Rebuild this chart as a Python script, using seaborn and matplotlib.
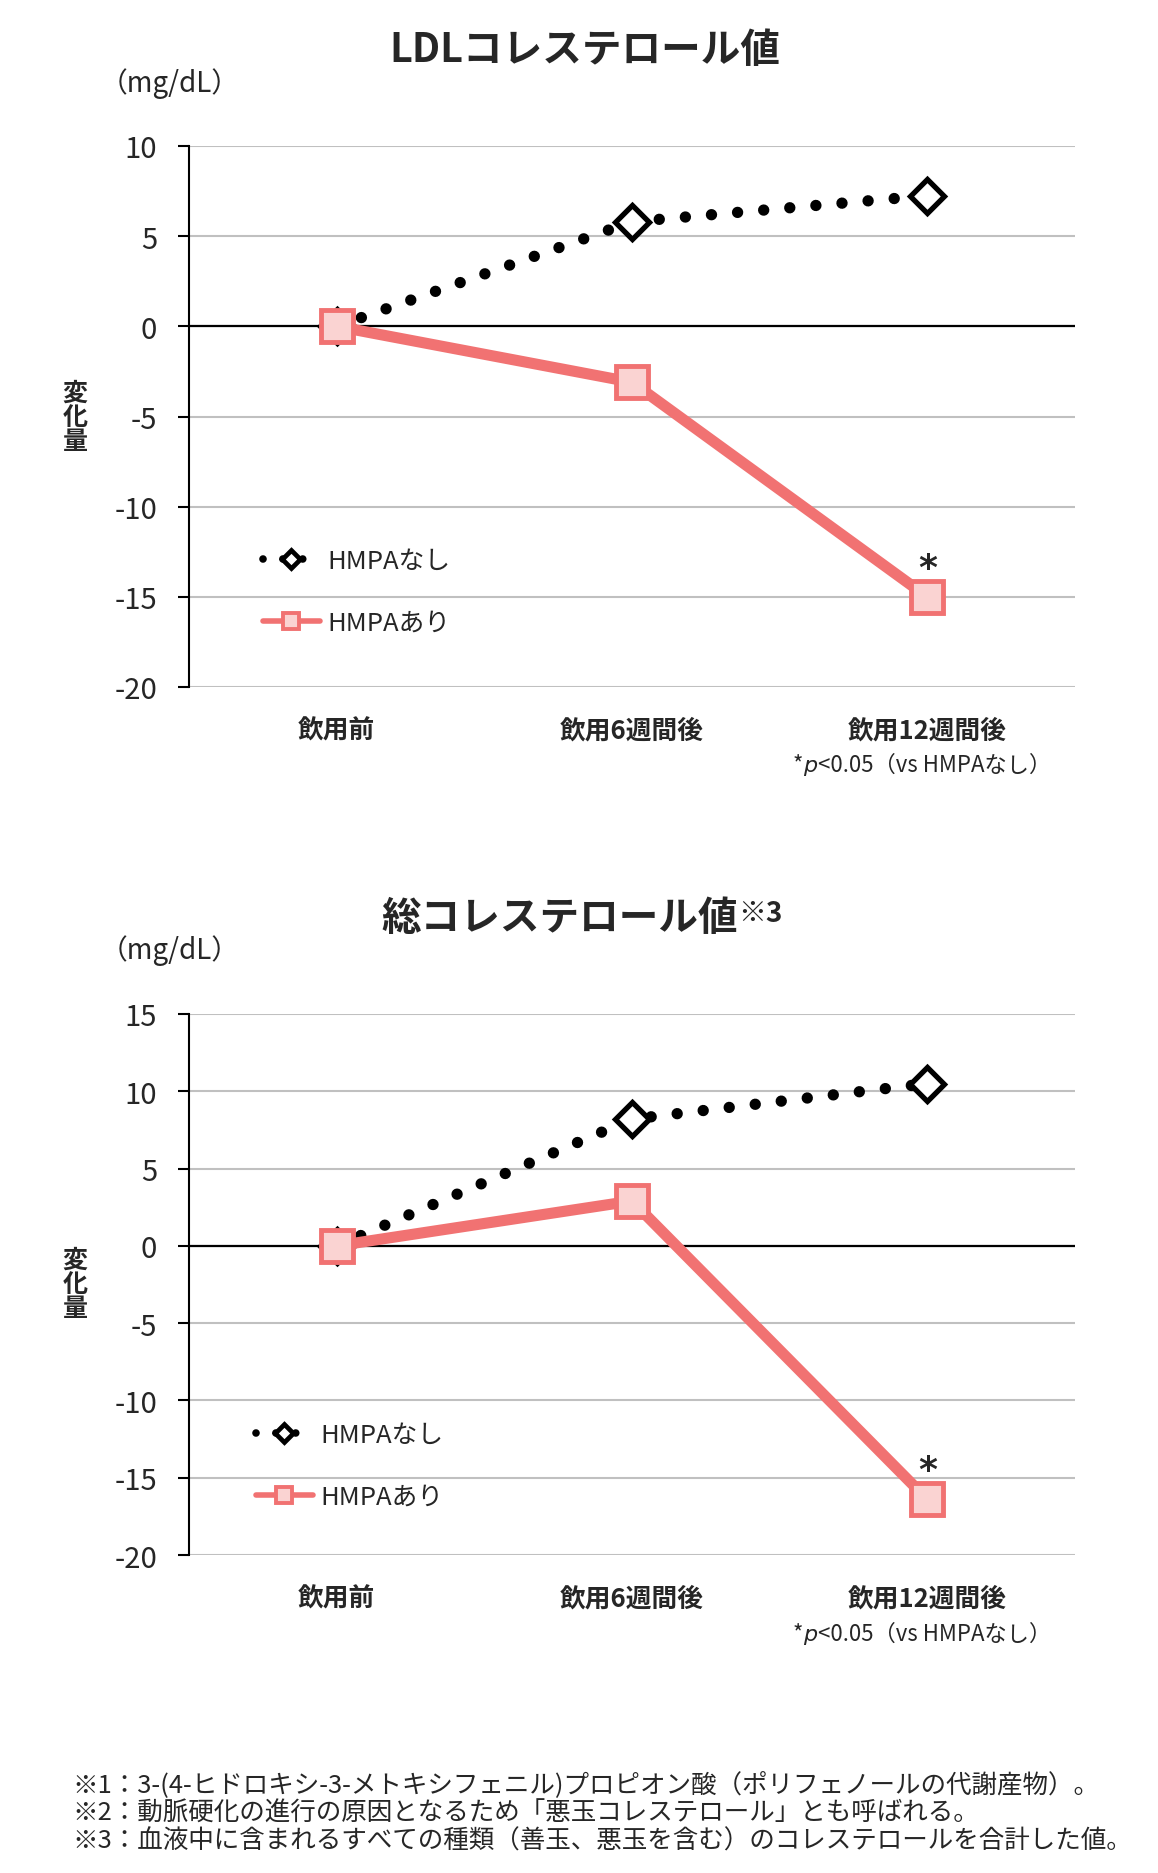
import matplotlib
matplotlib.use("Agg")
import matplotlib.pyplot as plt
from matplotlib.lines import Line2D
import pandas as pd
import seaborn as sns

W, H = 1158, 1874

timepoints = ["飲用前", "飲用6週間後", "飲用12週間後"]
series_names = ["HMPAなし", "HMPAあり"]

# change from baseline (mg/dL)
ldl_without = [0.0, 5.8, 7.25]
ldl_with = [0.0, -3.1, -15.0]
total_without = [0.0, 8.2, 10.5]
total_with = [0.0, 2.9, -16.4]

ldl_ticks = [-20, -15, -10, -5, 0, 5, 10]
total_ticks = [-20, -15, -10, -5, 0, 5, 10, 15]

footnotes = [
    "※1：3-(4-ヒドロキシ-3-メトキシフェニル)プロピオン酸（ポリフェノールの代謝産物）。",
    "※2：動脈硬化の進行の原因となるため「悪玉コレステロール」とも呼ばれる。",
    "※3：血液中に含まれるすべての種類（善玉、悪玉を含む）のコレステロールを合計した値。",
]

SALMON = "#F17272"
PINK = "#FAD3D2"
GRID = "#C0C0C0"

sns.set_style("white")
plt.rcParams["font.family"] = ["Noto Sans CJK JP", "DejaVu Sans"]


def fx(px):
    return px / W


def fy(px):
    return 1 - px / H


def draw_panel(ax, without, with_, yticks):
    df = pd.DataFrame({"time": timepoints, "without": without, "with": with_})

    sns.lineplot(data=df, x="time", y="without", sort=False, errorbar=None, ax=ax,
                 color="black", linewidth=8.2, linestyle=(0, (0.001, 2.3)),
                 dash_capstyle="round", marker="D", markersize=17,
                 markerfacecolor="white", markeredgecolor="black",
                 markeredgewidth=3.8, zorder=3)
    sns.lineplot(data=df, x="time", y="with", sort=False, errorbar=None, ax=ax,
                 color=SALMON, linewidth=8, marker="s", markersize=23,
                 markerfacecolor=PINK, markeredgecolor=SALMON,
                 markeredgewidth=3.5, zorder=4)

    ax.set_xlim(-0.5, 2.5)
    ax.set_ylim(yticks[0], yticks[-1])
    ax.set_yticks(yticks)
    ax.set_yticklabels([str(t) for t in yticks])
    ax.set_xlabel("")
    ax.set_ylabel("")

    ax.yaxis.grid(True, color=GRID, linewidth=1.5)
    ax.xaxis.grid(False)
    ax.set_axisbelow(True)
    ax.axhline(0, color="black", linewidth=1.6, zorder=2)

    for side in ["top", "right", "bottom"]:
        ax.spines[side].set_visible(False)
    ax.spines["left"].set_color("black")
    ax.spines["left"].set_linewidth(1.5)

    ax.tick_params(axis="y", direction="out", length=8, width=1.5,
                   color="black", pad=15, labelsize=21, left=True)
    ax.tick_params(axis="x", length=0, pad=21, labelsize=18.5)
    for lbl in ax.get_xticklabels():
        lbl.set_fontweight("bold")

    # significance mark above the last HMPAあり point
    ax.annotate("*", xy=(2, with_[-1]), xytext=(0, 21), textcoords="offset points",
                ha="center", va="center", fontsize=26, fontweight="bold",
                family=["DejaVu Sans"])

    handles = [
        Line2D([], [], color="black", linewidth=5.5, linestyle=(0, (0.001, 2.6)),
               dash_capstyle="round", marker="D", markersize=9,
               markerfacecolor="white", markeredgecolor="black", markeredgewidth=3.4),
        Line2D([], [], color=SALMON, linewidth=4, marker="s", markersize=11,
               markerfacecolor=PINK, markeredgecolor=SALMON, markeredgewidth=2.8),
    ]
    return handles


def p_note(ax, x_px, y_px):
    t1 = ax.figure.text(fx(x_px), fy(y_px), "*", ha="left", va="center", fontsize=16)
    t2 = ax.annotate("p", xy=(1, 0), xycoords=t1, ha="left", va="bottom",
                     fontsize=16, style="italic", family=["DejaVu Sans"])
    ax.annotate("<0.05（vs HMPAなし）", xy=(1, 0), xycoords=t2,
                ha="left", va="bottom", fontsize=16)


fig = plt.figure(figsize=(W / 100, H / 100), dpi=100)

panels = [
    dict(top=147, bottom=688, without=ldl_without, with_=ldl_with, ticks=ldl_ticks,
         title="LDLコレステロール値", sup=None, title_y=50, unit_y=84,
         ylab_y=418, legend=(0.0835, 0.1765), note_y=765),
    dict(top=1015, bottom=1556, without=total_without, with_=total_with, ticks=total_ticks,
         title="総コレステロール値", sup="※3", title_y=918, unit_y=951,
         ylab_y=1285, legend=(0.0756, 0.1645), note_y=1634),
]

for p in panels:
    ax = fig.add_axes([fx(189), fy(p["bottom"]), (1075 - 189) / W,
                       (p["bottom"] - p["top"]) / H])
    handles = draw_panel(ax, p["without"], p["with_"], p["ticks"])
    ax.legend(handles, series_names, loc="center left", bbox_to_anchor=p["legend"],
              frameon=False, fontsize=18.5, borderpad=0, borderaxespad=0,
              handlelength=2.2, handletextpad=0.3, labelspacing=1.4)

    if p["sup"] is None:
        fig.text(fx(585), fy(p["title_y"]), p["title"], ha="center", va="center",
                 fontsize=28.5, fontweight="bold")
    else:
        fig.text(fx(738), fy(p["title_y"]), p["title"], ha="right", va="center",
                 fontsize=28.5, fontweight="bold")
        fig.text(fx(738), fy(p["title_y"] - 18), p["sup"], ha="left", va="top",
                 fontsize=20, fontweight="bold")

    fig.text(fx(100), fy(p["unit_y"]), "（mg/dL）", ha="left", va="center", fontsize=20)
    fig.text(fx(75), fy(p["ylab_y"]), "変\n化\n量", ha="center", va="center",
             fontsize=18, fontweight="bold", linespacing=1.0)
    p_note(ax, 793, p["note_y"])

for i, line in enumerate(footnotes):
    fig.text(fx(72), fy(1785 + 28.5 * i), line, ha="left", va="center", fontsize=18.4)

fig.savefig("out.png", dpi=100)
